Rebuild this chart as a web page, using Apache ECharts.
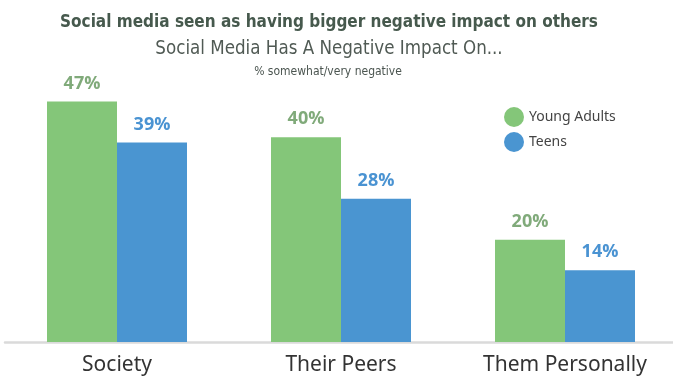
<!DOCTYPE html>
<html>
<head>
<meta charset="utf-8">
<script src="https://cdn.jsdelivr.net/npm/echarts@6/dist/echarts.min.js"></script>
<style>
  html, body { margin: 0; padding: 0; background: #fff; }
  #chart { width: 673px; height: 378px; }
</style>
</head>
<body>
<div id="chart"></div>
<script>
// Share of respondents saying social media has a somewhat/very negative impact
const categories = ['Society', 'Their Peers', 'Them Personally'];
const youngAdults = [47, 40, 20];
const teens = [39, 28, 14];
const seriesNames = ['Young Adults', 'Teens'];

const GREEN = '#84c679';
const BLUE = '#4a95d1';
const GREEN_LABEL = '#80aa7a';
const BLUE_LABEL = '#4a93d2';
const CONDENSED = "'DejaVu Sans Condensed', 'Liberation Sans Narrow', sans-serif";

const chart = echarts.init(document.getElementById('chart'), null, { renderer: 'canvas' });

function valueLabel(color) {
  return {
    show: true,
    position: 'top',
    distance: 9,
    formatter: '{c}%',
    color: color,
    fontFamily: 'Open Sans',
    fontWeight: 'bold',
    fontSize: 18
  };
}

chart.setOption({
  animation: false,
  backgroundColor: '#ffffff',
  title: [
    {
      text: 'Social media seen as having bigger negative impact on others',
      left: 324, top: 9, textAlign: 'center',
      textStyle: { fontFamily: CONDENSED, fontWeight: 'bold', fontSize: 17, color: '#46594d' }
    },
    {
      text: 'Social Media Has A Negative Impact On...',
      left: 324, top: 35, textAlign: 'center',
      textStyle: { fontFamily: CONDENSED, fontWeight: 'normal', fontSize: 18.6, color: '#505a54' }
    },
    {
      text: '% somewhat/very negative',
      left: 323, top: 61, textAlign: 'center',
      textStyle: { fontFamily: CONDENSED, fontWeight: 'normal', fontSize: 12, color: '#4b5550' }
    }
  ],
  legend: {
    orient: 'vertical',
    left: 499, top: 102,
    icon: 'circle',
    itemWidth: 20, itemHeight: 20,
    itemGap: 5,
    data: seriesNames,
    textStyle: { fontFamily: 'Noto Sans', fontSize: 14, color: '#444444' }
  },
  grid: { left: 5, right: -4, top: 35, bottom: 36, containLabel: false, outerBoundsMode: 'none' },
  xAxis: {
    type: 'category',
    data: categories,
    axisLine: { show: true, lineStyle: { color: '#dadada', width: 2.5 } },
    axisTick: { show: false },
    axisLabel: { interval: 0, color: '#333333', fontFamily: 'Noto Sans', fontSize: 21, margin: 13 }
  },
  yAxis: {
    type: 'value',
    min: 0, max: 60,
    show: false,
    splitLine: { show: false }
  },
  series: [
    {
      name: seriesNames[0], type: 'bar', data: youngAdults,
      barWidth: 70, barGap: '0%',
      itemStyle: { color: GREEN },
      label: valueLabel(GREEN_LABEL)
    },
    {
      name: seriesNames[1], type: 'bar', data: teens,
      barWidth: 70, barGap: '0%',
      itemStyle: { color: BLUE },
      label: valueLabel(BLUE_LABEL)
    }
  ]
});
</script>
</body>
</html>
